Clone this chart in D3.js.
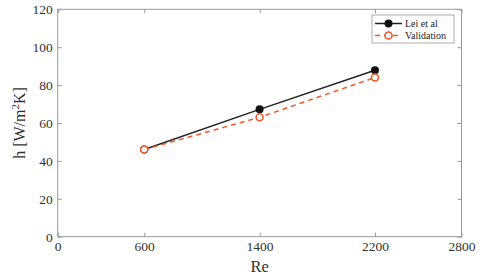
<!DOCTYPE html>
<html><head><meta charset="utf-8">
<script src="https://cdn.jsdelivr.net/npm/d3@7"></script>
<style>body{margin:0;background:#fff}svg{display:block}</style>
</head><body>
<svg id="c" width="480" height="277"></svg>
<script>
const reValues = [600, 1400, 2200];
const leiValues = [46, 67.2, 87.8];
const validationValues = [46, 63, 84];
const xTicks = [0, 600, 1400, 2200, 2800];
const yTicks = [0, 20, 40, 60, 80, 100, 120];
const seriesNames = ["Lei et al", "Validation"];

const svg = d3.select("#c");
const m = {l: 57.7, r: 461.5, t: 9.3, b: 236.7};
const x = d3.scaleLinear().domain([0, 2800]).range([m.l, m.r]);
const y = d3.scaleLinear().domain([0, 120]).range([m.b, m.t]);
const font = "'Liberation Serif', 'Times New Roman', serif";
const axisCol = "#999";
const textCol = "#333";

svg.append("rect").attr("x", m.l).attr("y", m.t).attr("width", m.r - m.l).attr("height", m.b - m.t)
  .attr("fill", "none").attr("stroke", axisCol).attr("stroke-width", 1);

function styleAxis(g) {
  g.select(".domain").remove();
  g.selectAll(".tick line").attr("stroke", axisCol);
  g.selectAll(".tick text").attr("fill", textCol).style("font-family", font).style("font-size", "13.5px");
}
svg.append("g").attr("transform", `translate(0,${m.b})`)
  .call(d3.axisBottom(x).tickValues(xTicks).tickFormat(d3.format("d")).tickSizeInner(-4).tickPadding(5))
  .call(styleAxis);
svg.append("g").attr("transform", `translate(0,${m.t})`)
  .call(d3.axisTop(x).tickValues(xTicks).tickFormat("").tickSizeInner(-4)).call(styleAxis);
svg.append("g").attr("transform", `translate(${m.l},0)`)
  .call(d3.axisLeft(y).tickValues(yTicks).tickSizeInner(-4).tickPadding(5)).call(styleAxis);
svg.append("g").attr("transform", `translate(${m.r},0)`)
  .call(d3.axisRight(y).tickValues(yTicks).tickFormat("").tickSizeInner(-4)).call(styleAxis);

svg.append("text").attr("x", x(1400)).attr("y", 272).attr("text-anchor", "middle")
  .attr("fill", textCol).style("font-family", font).style("font-size", "16.5px").text("Re");
const yl = svg.append("text").attr("transform", `translate(25,${(m.t + m.b) / 2}) rotate(-90)`)
  .attr("text-anchor", "middle").attr("fill", textCol).style("font-family", font).style("font-size", "16px");
yl.append("tspan").text("h [W/m");
yl.append("tspan").attr("dy", -6).style("font-size", "11px").text("2");
yl.append("tspan").attr("dy", 6).text("K]");

const orange = "#ee5a2c";
const line = d3.line().x((d, i) => x(reValues[i])).y(d => y(d));

svg.append("path").datum(leiValues).attr("d", line).attr("fill", "none").attr("stroke", "#222").attr("stroke-width", 1.5);
svg.append("path").datum(validationValues).attr("d", line).attr("fill", "none").attr("stroke", orange)
  .attr("stroke-width", 1.5).attr("stroke-dasharray", "5,4");
svg.selectAll(".lei").data(leiValues).join("circle").attr("cx", (d, i) => x(reValues[i])).attr("cy", d => y(d))
  .attr("r", 4).attr("fill", "#111");
svg.selectAll(".val").data(validationValues).join("circle").attr("cx", (d, i) => x(reValues[i])).attr("cy", d => y(d))
  .attr("r", 3.5).attr("fill", "#fff").attr("stroke", orange).attr("stroke-width", 1.6);

// legend
const lg = svg.append("g");
lg.append("rect").attr("x", 372).attr("y", 15).attr("width", 82).attr("height", 28)
  .attr("fill", "#fff").attr("stroke", axisCol).attr("stroke-width", 0.8);
seriesNames.forEach((name, i) => {
  const yy = 23.5 + i * 12;
  const l = lg.append("line").attr("x1", 375).attr("x2", 402).attr("y1", yy).attr("y2", yy)
    .attr("stroke-width", 1.5).attr("stroke", i === 0 ? "#222" : orange);
  if (i === 1) l.attr("stroke-dasharray", "5,4");
  if (i === 0) lg.append("circle").attr("cx", 388.5).attr("cy", yy).attr("r", 4).attr("fill", "#111");
  else lg.append("circle").attr("cx", 388.5).attr("cy", yy).attr("r", 3.5).attr("fill", "#fff").attr("stroke", orange).attr("stroke-width", 1.6);
  lg.append("text").attr("x", 405).attr("y", yy + 3.5).attr("fill", "#222").style("font-family", font)
    .style("font-size", "10px").text(name);
});
</script>
</body></html>
